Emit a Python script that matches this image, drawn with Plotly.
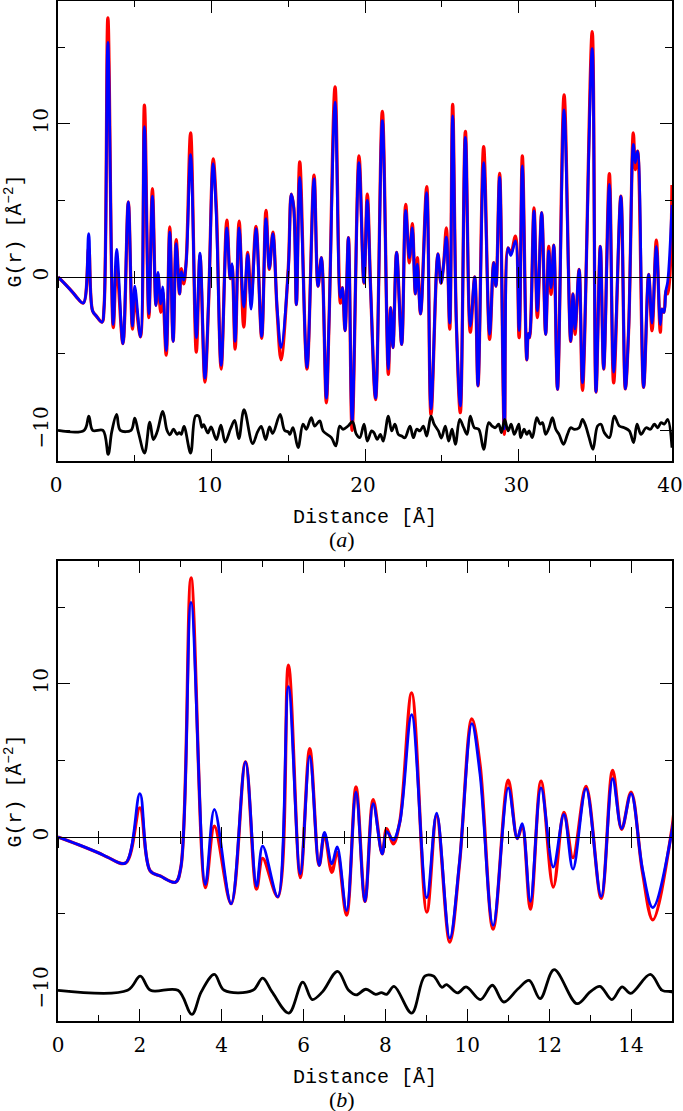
import plotly.graph_objects as go

# ---------------- data ----------------
# r positions of extrema / knots of the PDF curves  [Å]
r_fit = [
    0.0, 0.5, 1.0, 1.2, 1.65, 2.0, 2.25, 2.5, 2.87, 3.0,
    3.25, 3.6, 3.82, 4.23, 4.58, 4.85, 5.0, 5.37, 5.63, 5.92,
    6.15, 6.38, 6.51, 6.69, 6.82, 7.05, 7.28, 7.5, 7.7, 7.92,
    8.03, 8.19, 8.35, 8.64, 9.01, 9.25, 9.57, 9.81, 10.11, 10.31,
    10.63, 11.0, 11.22, 11.34, 11.54, 11.8, 12.1, 12.36, 12.58, 12.9,
    13.27, 13.55, 13.77, 14.0, 14.28, 14.53, 15.0, 15.2, 15.36, 15.53,
    15.75, 16.22, 16.68, 16.94, 17.16, 17.48, 17.66, 18.05, 18.4, 18.53,
    18.7, 18.92, 19.16, 19.61, 19.93, 20.15, 20.37, 20.69, 21.13, 21.52,
    21.67, 21.82, 22.06, 22.39, 22.65, 22.89, 23.08, 23.28, 23.41, 23.62,
    24.02, 24.3, 24.75, 24.95, 25.12, 25.3, 25.52, 25.71, 25.95, 26.21,
    26.54, 26.86, 27.15, 27.36, 27.73, 28.12, 28.38, 28.53, 28.77, 29.08,
    29.32, 29.5, 29.8, 30.04, 30.25, 30.54, 30.64, 30.72, 31.01, 31.23,
    31.51, 31.77, 31.97, 32.12, 32.3, 32.54, 32.97, 33.4, 33.55, 33.68,
    33.95, 34.17, 34.8, 35.05, 35.33, 35.55, 35.92, 36.2, 36.67, 36.96,
    37.18, 37.48, 37.61, 37.76, 38.15, 38.48, 38.7, 38.98, 39.24, 39.35,
    39.48, 39.6, 39.72, 40.0,
]
# observed G(r) (red)
g_obs = [
    0.0, -0.5, -1.05, -1.3, -1.7, 1.9, -2.2, -2.55, -2.95, -2.0,
    16.9, -3.3, 0.7, -4.35, 4.9, -3.4, -1.4, -3.9, 11.2, -2.65,
    5.76, -1.85, 0.2, -2.3, -1.0, -5.1, 3.26, -4.2, 2.43, -1.1,
    0.55, -0.45, 1.0, 9.4, -4.9, 1.4, -6.85, -1.7, 7.7, 4.7,
    -6.0, 3.7, -0.1, 0.7, -4.7, 3.65, -3.26, 1.6, -1.35, 3.3,
    -4.0, 4.35, 0.5, 2.93, -2.3, -5.4, 0.55, 5.4, 4.5, -1.8,
    7.5, -6.0, 6.65, -0.6, 1.26, -8.2, -2.8, 12.4, -1.7, -0.7,
    -3.5, 2.57, -10.0, 7.9, -0.4, 5.4, -0.9, -8.0, 10.8, -6.35,
    -2.0, -4.6, 1.6, -4.4, 4.74, 0.93, 3.48, -1.1, 1.26, -2.4,
    5.9, -9.0, 1.5, -0.4, 0.8, 3.2, -3.4, 11.26, -2.9, -8.85,
    9.5, -3.6, 0.0, -7.1, 8.5, -4.07, 0.93, -0.6, 6.76, -10.26,
    1.9, 1.5, 2.67, -3.96, 7.9, -5.4, -3.7, -3.96, 4.5, -2.65,
    4.2, -3.74, 2.0, -1.13, 2.07, -7.33, 11.87, -4.2, -1.1, -3.74,
    0.5, -7.4, 16.0, -7.5, 2.0, -6.0, 6.74, -6.9, 5.28, -7.3,
    -3.3, 9.4, 7.0, 8.2, -7.2, 0.17, -3.5, 2.4, -3.6, -2.1,
    -2.3, -0.9, -1.1, 6.0,
]
# calculated G(r) (blue)
g_calc = [
    0.0, -0.5, -1.05, -1.3, -1.7, 2.83, -2.2, -2.55, -2.95, -2.0,
    15.3, -3.1, 1.8, -4.35, 4.9, -3.2, -0.6, -3.9, 9.8, -2.4,
    5.28, -1.85, 0.3, -1.75, -0.65, -4.8, 2.93, -4.2, 2.17, -1.1,
    0.35, -0.2, 0.95, 7.98, -3.96, 1.55, -6.6, -1.6, 7.4, 4.1,
    -5.76, 3.2, -0.1, 0.87, -4.2, 3.2, -1.96, 1.48, -2.1, 3.15,
    -3.87, 3.8, 0.55, 2.83, -2.1, -4.6, 0.4, 5.4, 4.5, -1.8,
    6.5, -5.9, 6.4, -0.6, 1.26, -7.9, -2.8, 11.4, -1.35, -0.7,
    -3.5, 2.57, -9.4, 7.45, -0.37, 5.0, -0.9, -7.9, 10.2, -6.0,
    -2.0, -4.6, 1.6, -4.4, 4.35, 1.26, 3.2, -1.1, 0.83, -2.4,
    5.5, -8.6, 1.5, -0.4, 0.8, 2.6, -3.0, 10.5, -2.9, -8.4,
    9.1, -3.2, 0.0, -7.1, 7.45, -3.74, 0.93, -0.6, 6.5, -9.9,
    1.9, 1.4, 2.35, -3.5, 7.24, -5.4, -3.7, -3.96, 4.3, -2.2,
    4.2, -3.74, 1.7, -0.7, 2.07, -7.33, 10.9, -4.2, -1.1, -3.4,
    0.5, -6.9, 14.9, -7.5, 2.0, -6.0, 6.04, -6.2, 5.28, -7.3,
    -3.3, 8.65, 7.45, 8.2, -7.2, 0.17, -3.0, 2.0, -3.1, -2.1,
    -2.3, -0.9, -0.3, 4.7,
]
# difference curve (calc - obs, offset by -10)
r_diff = [
    0.0, 1.7, 2.01, 2.26, 2.93, 3.27, 3.5, 3.82, 4.06, 4.76,
    5.0, 5.23, 5.64, 5.98, 6.21, 6.46, 6.83, 7.1, 7.29, 7.52,
    7.76, 7.9, 8.03, 8.21, 8.64, 8.96, 9.17, 9.38, 9.49, 9.76,
    9.97, 10.32, 10.61, 10.89, 11.24, 11.51, 11.78, 12.12, 12.68, 13.0,
    13.24, 13.53, 13.78, 13.99, 14.47, 14.76, 15.0, 15.1, 15.31, 15.64,
    15.96, 16.18, 16.5, 16.72, 17.05, 17.27, 17.81, 18.1, 18.35, 18.57,
    18.9, 19.18, 19.44, 19.66, 19.94, 20.15, 20.43, 20.58, 20.8, 21.0,
    21.19, 21.52, 21.74, 21.95, 22.17, 22.39, 22.6, 22.93, 23.15, 23.37,
    23.58, 23.8, 24.02, 24.3, 24.5, 24.78, 24.98, 25.23, 25.45, 25.67,
    25.89, 26.17, 26.43, 26.65, 26.86, 27.12, 27.41, 27.73, 28.06, 28.28,
    28.49, 28.71, 28.89, 29.1, 29.32, 29.52, 29.73, 30.02, 30.14, 30.36,
    30.54, 30.69, 30.9, 31.19, 31.41, 31.56, 31.77, 31.99, 32.21, 32.43,
    32.64, 32.93, 33.19, 33.4, 33.62, 33.95, 34.17, 34.38, 34.6, 34.85,
    35.15, 35.37, 35.59, 35.92, 36.24, 36.57, 36.89, 37.22, 37.5, 37.72,
    37.98, 38.31, 38.59, 38.85, 39.07, 39.29, 39.5, 39.72, 40.0,
]
g_diff = [
    -10.0, -10.0, -9.07, -10.0, -10.0, -11.57, -10.1, -8.96, -10.0, -10.0,
    -9.2, -10.1, -11.48, -9.46, -10.6, -10.1, -8.76, -10.0, -10.3, -9.93,
    -10.26, -10.15, -10.26, -9.74, -11.48, -9.07, -9.07, -9.8, -9.63, -10.17,
    -9.78, -10.6, -9.67, -10.76, -9.9, -9.35, -10.54, -8.65, -10.87, -10.1,
    -9.74, -10.6, -9.78, -10.2, -8.96, -10.0, -10.1, -10.26, -9.83, -11.13,
    -9.6, -9.93, -9.17, -9.72, -9.39, -10.04, -10.48, -11.02, -9.72, -9.93,
    -9.72, -9.43, -10.26, -10.48, -9.6, -10.7, -10.04, -10.15, -10.59, -10.26,
    -10.7, -9.07, -10.04, -9.6, -10.26, -10.37, -10.48, -9.72, -10.48, -9.93,
    -10.04, -9.72, -10.37, -9.07, -9.6, -10.04, -10.5, -9.72, -10.7, -9.93,
    -10.91, -9.28, -9.83, -10.26, -9.07, -9.83, -9.93, -11.24, -9.5, -9.72,
    -9.83, -9.6, -10.15, -9.28, -10.04, -9.6, -10.26, -9.6, -10.48, -9.93,
    -10.26, -10.04, -10.48, -9.17, -9.6, -9.5, -10.26, -9.83, -9.17, -9.93,
    -10.26, -10.91, -10.26, -9.83, -9.93, -9.83, -9.28, -9.72, -10.48, -11.24,
    -9.72, -9.6, -10.15, -10.48, -9.07, -9.72, -9.83, -10.04, -10.8, -9.6,
    -10.26, -9.83, -9.93, -9.6, -9.83, -9.5, -9.6, -9.28, -11.13,
]

x_range_a = [0, 40]
x_range_b = [0, 15]
y_range = [-12, 18]
y_ticks = [-10, 0, 10]
panel_labels = ["(<i>a</i>)", "(<i>b</i>)"]
x_title = "Distance [Å]"
y_title = "G(r) [Å<sup>−2</sup>]"

# ---------------- figure ----------------
W, H = 683, 1111
M_L, M_R, M_T, M_B = 58, 11, 1, 90
dom_a = [0.54902, 1.0]
dom_b = [0.0, 0.45098]

fig = go.Figure()
for xa, ya in (("x", "y"), ("x2", "y2")):
    fig.add_trace(go.Scatter(x=r_fit, y=g_obs, mode="lines", xaxis=xa, yaxis=ya,
                             line=dict(color="#ff0000", width=3.3, shape="spline", smoothing=1.0),
                             showlegend=False, hoverinfo="skip"))
    fig.add_trace(go.Scatter(x=r_fit, y=g_calc, mode="lines", xaxis=xa, yaxis=ya,
                             line=dict(color="#0000ff", width=2.8, shape="spline", smoothing=1.0),
                             showlegend=False, hoverinfo="skip"))
    fig.add_trace(go.Scatter(x=r_diff, y=g_diff, mode="lines", xaxis=xa, yaxis=ya,
                             line=dict(color="#000000", width=2.8, shape="spline", smoothing=1.0),
                             showlegend=False, hoverinfo="skip"))

# empty carrier traces so that the zero-line axes (ticked line at G=0) are drawn
for xa, ya, rng in (("x3", "y", x_range_a), ("x4", "y", x_range_a),
                    ("x5", "y2", x_range_b), ("x6", "y2", x_range_b)):
    fig.add_trace(go.Scatter(x=rng, y=[0, 0], mode="none", xaxis=xa, yaxis=ya,
                             showlegend=False, hoverinfo="skip"))

tickfont = dict(family="DejaVu Serif", size=20, color="black")
titlefont = dict(family="Liberation Mono", size=20, color="black")

frame = dict(showline=True, linecolor="black", linewidth=1.5, mirror="ticks",
             ticks="inside", ticklen=12, tickwidth=1.3, tickcolor="black",
             showgrid=False, automargin=False, tickfont=tickfont,
             ticklabeloverflow="allow")


def xax(rng, dtick, mdtick, anchor, shift):
    return dict(frame, range=rng, dtick=dtick, tick0=0, anchor=anchor, zeroline=False,
                ticklabelstandoff=5, ticklabelshift=shift,
                minor=dict(dtick=mdtick, tick0=0, ticks="inside", ticklen=6,
                           tickwidth=1.3, tickcolor="black", showgrid=False),
                title=dict(text=x_title, font=titlefont, standoff=13))


def yax(dom, anchor):
    return dict(frame, range=y_range, domain=dom, anchor=anchor, tickvals=y_ticks,
                tickangle=-90, zeroline=True, zerolinecolor="black", zerolinewidth=1.3,
                minor=dict(dtick=5, tick0=0, ticks="inside", ticklen=7,
                           tickwidth=1.3, tickcolor="black", showgrid=False),
                title=dict(text=y_title, font=titlefont, standoff=2))


def zero_pos(dom):
    return dom[0] + (0 - y_range[0]) / (y_range[1] - y_range[0]) * (dom[1] - dom[0])


def zax(rng, dtick, mdtick, over, pos, side):
    return dict(overlaying=over, anchor="free", position=pos, range=rng,
                showline=True, linecolor="black", linewidth=1.3,
                ticks=side, ticklen=10, tickwidth=1.3, tickcolor="black",
                dtick=dtick, tick0=0, showticklabels=False, showgrid=False,
                zeroline=False, automargin=False,
                minor=dict(dtick=mdtick, tick0=0, ticks=side, ticklen=6,
                           tickwidth=1.3, tickcolor="black", showgrid=False))


fig.update_layout(
    width=W, height=H,
    margin=dict(l=M_L, r=M_R, t=M_T, b=M_B),
    paper_bgcolor="white", plot_bgcolor="white",
    xaxis=xax(x_range_a, 10, 5, "y", -2),
    yaxis=yax(dom_a, "x"),
    xaxis2=xax(x_range_b, 2, 1, "y2", 0),
    yaxis2=yax(dom_b, "x2"),
    xaxis3=zax(x_range_a, 10, 5, "x", zero_pos(dom_a), "outside"),
    xaxis4=zax(x_range_a, 10, 5, "x", zero_pos(dom_a), "inside"),
    xaxis5=zax(x_range_b, 2, 1, "x2", zero_pos(dom_b), "outside"),
    xaxis6=zax(x_range_b, 2, 1, "x2", zero_pos(dom_b), "inside"),
)

cx = (W / 2 - M_L) / (W - M_L - M_R)
plot_h = H - M_T - M_B
for lab, bottom_px in zip(panel_labels, (461, 1021)):
    ypix = bottom_px + 78
    fig.add_annotation(text=lab, xref="paper", yref="paper", x=cx,
                       y=(H - M_B - ypix) / plot_h, xanchor="center", yanchor="middle",
                       showarrow=False, font=dict(family="Liberation Serif", size=22, color="black"))

fig.write_html("out.html", config={"displayModeBar": False},
               post_script="document.body.style.margin='0px';")
